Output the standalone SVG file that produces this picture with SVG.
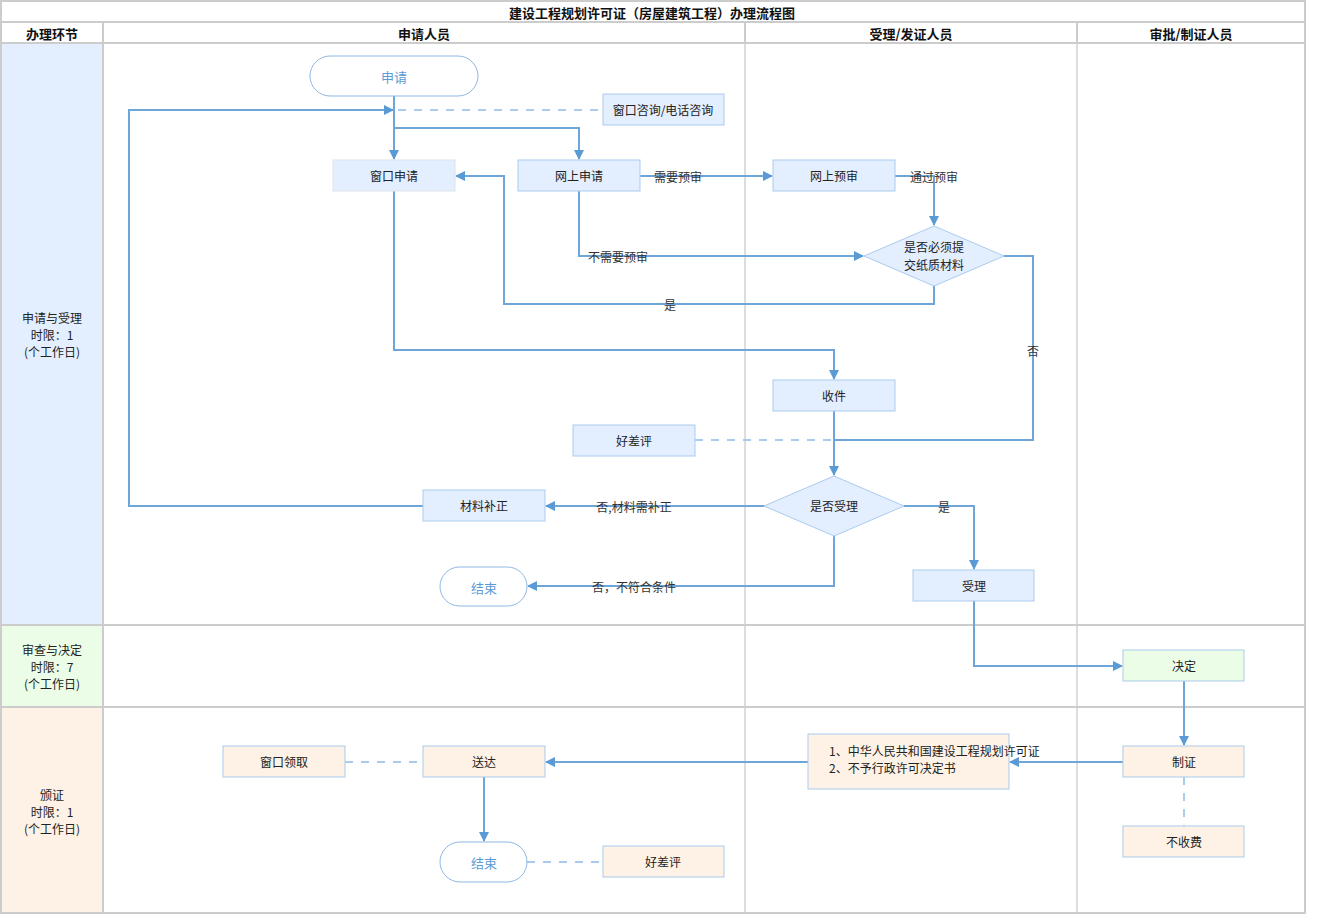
<svg xmlns="http://www.w3.org/2000/svg" width="1323" height="915" viewBox="0 0 1323 915">
<defs>
<marker id="arr" markerWidth="10" markerHeight="10" refX="9" refY="5" orient="auto" markerUnits="userSpaceOnUse">
<path d="M0,0 L10,5 L0,10 Z" fill="#5b9bd5"/>
</marker>
<style>
text{font-family:"Noto Sans CJK SC","Noto Sans",sans-serif;font-size:12px;fill:#222;text-anchor:middle;dominant-baseline:central}
.hd{font-size:13px;font-weight:bold;fill:#111}
.grid{stroke:#cccccc;stroke-width:2;fill:none}
.grid2{stroke:#dddddd;stroke-width:2;fill:none}
.box{fill:#e3eeff;stroke:#a9cbee;stroke-width:1}
.boxg{fill:#e3eeff;stroke:#dde3ea;stroke-width:1}
.green{fill:#ebfde6;stroke:#a9cbee;stroke-width:1}
.orange{fill:#fef2e6;stroke:#a9cbee;stroke-width:1}
.term{fill:#ffffff;stroke:#8fb8e4;stroke-width:1}
.tt{fill:#5b9bd5;font-size:13px}
.ln{stroke:#6fa6da;stroke-width:2;fill:none}
.ar{marker-end:url(#arr)}
.dash{stroke:#a9cbee;stroke-width:2;fill:none;stroke-dasharray:8,8}
.lab{font-size:12px;fill:#333}
</style>
</defs>
<rect x="0" y="0" width="1323" height="915" fill="#ffffff"/>
<g id="lanes">
<rect x="1" y="43" width="102" height="582" fill="#e3eeff"/>
<rect x="1" y="625" width="102" height="82" fill="#ebfde6"/>
<rect x="1" y="707" width="102" height="206" fill="#fef2e6"/>
<line class="grid2" x1="745" y1="43" x2="745" y2="913"/>
<line class="grid2" x1="1077" y1="43" x2="1077" y2="913"/>
<line class="grid" x1="745" y1="22" x2="745" y2="43"/>
<line class="grid" x1="1077" y1="22" x2="1077" y2="43"/>
<rect class="grid" x="1" y="1" width="1304" height="912"/>
<line class="grid" x1="1" y1="22" x2="1305" y2="22"/>
<line class="grid" x1="1" y1="43" x2="1305" y2="43"/>
<line class="grid" x1="1" y1="625" x2="1305" y2="625"/>
<line class="grid" x1="1" y1="707" x2="1305" y2="707"/>
<line class="grid" x1="103" y1="22" x2="103" y2="913"/>
<text class="hd" x="652" y="12">建设工程规划许可证（房屋建筑工程）办理流程图</text>
<text class="hd" x="52" y="33">办理环节</text>
<text class="hd" x="424" y="33">申请人员</text>
<text class="hd" x="911" y="33">受理/发证人员</text>
<text class="hd" x="1191" y="33">审批/制证人员</text>
<text x="52" y="317">申请与受理</text>
<text x="52" y="334">时限：1</text>
<text x="52" y="351">(个工作日)</text>
<text x="52" y="649">审查与决定</text>
<text x="52" y="666">时限：7</text>
<text x="52" y="683">(个工作日)</text>
<text x="52" y="794">颁证</text>
<text x="52" y="811">时限：1</text>
<text x="52" y="828">(个工作日)</text>
</g>
<g id="connectors">
<line class="ln ar" x1="394" y1="96" x2="394" y2="159"/>
<polyline class="ln ar" points="394,128 579,128 579,159"/>
<line class="dash" x1="398" y1="110" x2="603" y2="110"/>
<polyline class="ln ar" points="423,506 129,506 129,110 393,110"/>
<line class="ln ar" x1="640" y1="176" x2="772" y2="176"/>
<polyline class="ln ar" points="895,176 934,176 934,225"/>
<polyline class="ln ar" points="579,191 579,256 863,256"/>
<polyline class="ln ar" points="934,286 934,304 504,304 504,176 456,176"/>
<polyline class="ln" points="1004,256 1033,256 1033,440 834,440"/>
<polyline class="ln ar" points="394,191 394,350 834,350 834,379"/>
<line class="ln ar" x1="834" y1="411" x2="834" y2="475"/>
<line class="dash" x1="695" y1="440" x2="834" y2="440"/>
<line class="ln ar" x1="764" y1="506" x2="546" y2="506"/>
<polyline class="ln ar" points="834,536 834,586 528,586"/>
<polyline class="ln ar" points="904,506 974,506 974,569"/>
<polyline class="ln ar" points="974,601 974,666 1122,666"/>
<line class="ln ar" x1="1184" y1="681" x2="1184" y2="745"/>
<line class="ln ar" x1="1123" y1="762" x2="1010" y2="762"/>
<line class="ln ar" x1="808" y1="762" x2="546" y2="762"/>
<line class="ln ar" x1="484" y1="777" x2="484" y2="841"/>
<line class="dash" x1="345" y1="762" x2="423" y2="762"/>
<line class="dash" x1="527" y1="862" x2="603" y2="862"/>
<line class="dash" x1="1184" y1="777" x2="1184" y2="826"/>
<text class="lab" x="678" y="176">需要预审</text>
<text class="lab" x="934" y="176">通过预审</text>
<text class="lab" x="618" y="256">不需要预审</text>
<text class="lab" x="670" y="304">是</text>
<text class="lab" x="1033" y="350">否</text>
<text class="lab" x="634" y="506">否,材料需补正</text>
<text class="lab" x="634" y="586">否，不符合条件</text>
<text class="lab" x="944" y="506">是</text>
</g>
<g id="n-start"><rect class="term" x="310" y="56" width="168" height="40" rx="20"/><text class="tt" x="394" y="76">申请</text></g>
<g id="n-consult"><rect class="box" x="603" y="94" width="121" height="31"/><text x="663" y="109">窗口咨询/电话咨询</text></g>
<g id="n-window"><rect class="boxg" x="333" y="160" width="122" height="31"/><text x="394" y="175">窗口申请</text></g>
<g id="n-online"><rect class="box" x="518" y="160" width="122" height="31"/><text x="579" y="175">网上申请</text></g>
<g id="n-precheck"><rect class="box" x="773" y="160" width="122" height="31"/><text x="834" y="175">网上预审</text></g>
<g id="n-paper"><polygon class="box" points="934,226 1004,256 934,286 864,256"/><text x="934" y="246">是否必须提</text><text x="934" y="264">交纸质材料</text></g>
<g id="n-receive"><rect class="box" x="773" y="380" width="122" height="31"/><text x="834" y="395">收件</text></g>
<g id="n-eval1"><rect class="box" x="573" y="425" width="122" height="31"/><text x="634" y="440">好差评</text></g>
<g id="n-accept-q"><polygon class="box" points="834,476 904,506 834,536 764,506"/><text x="834" y="505">是否受理</text></g>
<g id="n-supp"><rect class="box" x="423" y="490" width="122" height="31"/><text x="484" y="505">材料补正</text></g>
<g id="n-end1"><rect class="term" x="440" y="567" width="87" height="39" rx="19.5"/><text class="tt" x="484" y="587">结束</text></g>
<g id="n-accept"><rect class="box" x="913" y="570" width="121" height="31"/><text x="974" y="585">受理</text></g>
<g id="n-decide"><rect class="green" x="1123" y="650" width="121" height="31"/><text x="1184" y="665">决定</text></g>
<g id="n-make"><rect class="orange" x="1123" y="746" width="121" height="31"/><text x="1184" y="761">制证</text></g>
<g id="n-nofee"><rect class="orange" x="1123" y="826" width="121" height="31"/><text x="1184" y="841">不收费</text></g>
<g id="n-cert"><rect class="orange" x="808" y="734" width="201" height="55"/><text x="829" y="750" style="text-anchor:start">1、中华人民共和国建设工程规划许可证</text><text x="829" y="767" style="text-anchor:start">2、不予行政许可决定书</text></g>
<g id="n-deliver"><rect class="orange" x="423" y="746" width="122" height="31"/><text x="484" y="761">送达</text></g>
<g id="n-pickup"><rect class="orange" x="223" y="746" width="122" height="31"/><text x="284" y="761">窗口领取</text></g>
<g id="n-end2"><rect class="term" x="440" y="842" width="87" height="40" rx="20"/><text class="tt" x="484" y="862">结束</text></g>
<g id="n-eval2"><rect class="orange" x="603" y="846" width="121" height="31"/><text x="663" y="861">好差评</text></g>
</svg>
